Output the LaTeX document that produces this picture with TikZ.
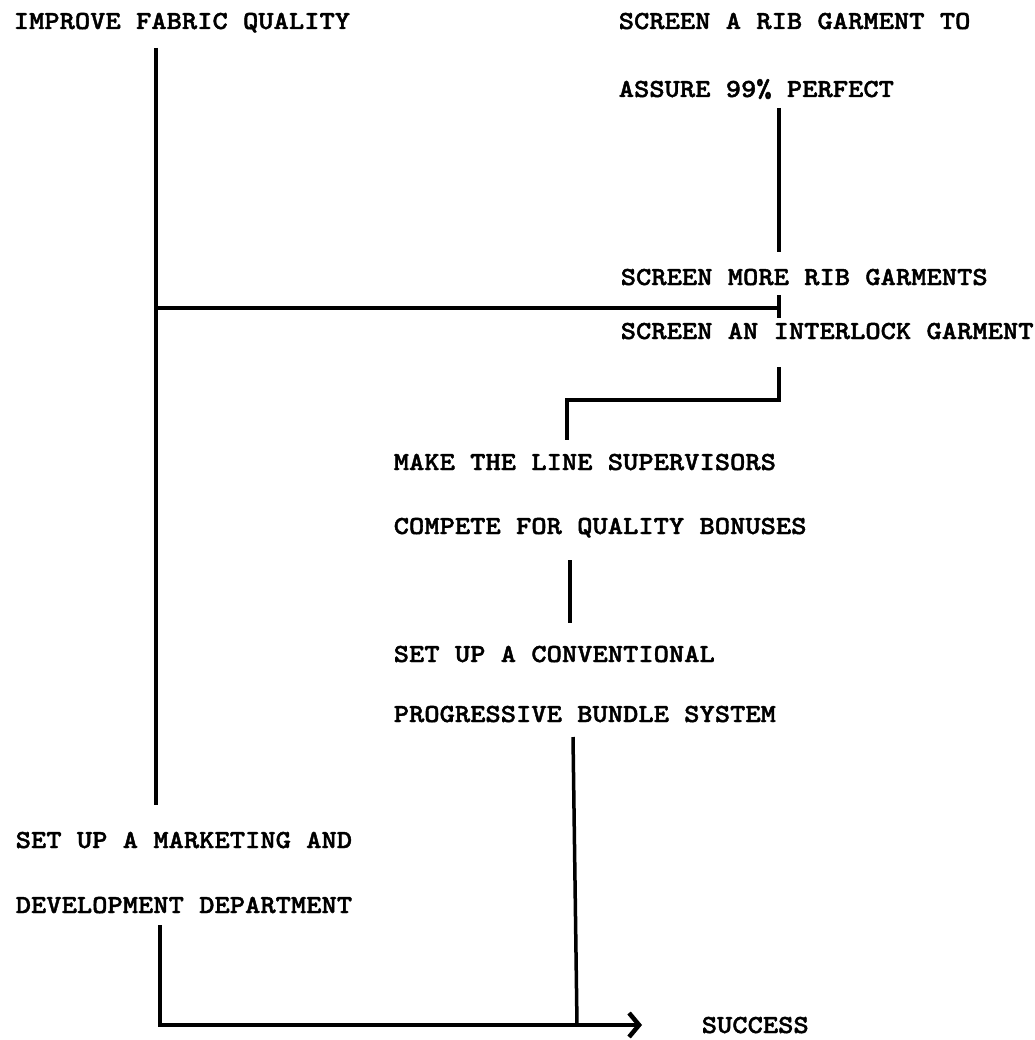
\documentclass[tikz,border=0pt]{standalone}
\usepackage{fontspec}
\newfontfamily\typewr{lmmonolt10-bold.otf}[FakeStretch=1.12,FakeBold=1.6]
\usetikzlibrary{arrows.meta}

\begin{document}
\begin{tikzpicture}[x=1pt,y=-1pt,line width=3.5pt,
  every node/.style={anchor=base west,inner sep=0pt,font=\fontsize{26}{30}\typewr}]
\useasboundingbox (0,0) rectangle (1034,1040);
% texts
\path (12,29) node (improve) {IMPROVE FABRIC QUALITY};
\path (617,29) node (screenrib) {SCREEN A RIB GARMENT TO};
\path (617,97) node (assure) {ASSURE 99\% PERFECT};
\path (619,285) node (screenmore) {SCREEN MORE RIB GARMENTS};
\path (619,339) node (interlock) {SCREEN AN INTERLOCK GARMENT};
\path (392,470) node (makeline) {MAKE THE LINE SUPERVISORS};
\path (392,534) node (compete) {COMPETE FOR QUALITY BONUSES};
\path (392,662) node (setconv) {SET UP A CONVENTIONAL};
\path (392,722) node (bundle) {PROGRESSIVE BUNDLE SYSTEM};
\path (14,848) node (marketing) {SET UP A MARKETING AND};
\path (14,913) node (develop) {DEVELOPMENT DEPARTMENT};
\path (700,1033) node (success) {SUCCESS};
% turning points
\path (156,48) coordinate (mainTop);
\path (156,308) coordinate (mainJoin);
\path (156,805) coordinate (mainEnd);
\path (779,108) coordinate (ribTop);
\path (779,252) coordinate (ribEnd);
\path (779,295) coordinate (tickTop);
\path (779,308) coordinate (tickJoin);
\path (779,318) coordinate (tickEnd);
\path (779,367) coordinate (ilTop);
\path (779,400) coordinate (ilCorner);
\path (567,400) coordinate (mlCorner);
\path (567,440) coordinate (mlEnd);
\path (570,560) coordinate (cmpTop);
\path (570,623) coordinate (cmpEnd);
\path (573,737) coordinate (bdlTop);
\path (577,1025) coordinate (bdlJoin);
\path (160,925) coordinate (devTop);
\path (160,1025) coordinate (devCorner);
\path (642,1025) coordinate (arrowTip);

\draw (mainTop) to (mainEnd);
\draw (mainJoin) to (tickJoin);
\draw (ribTop) to (ribEnd);
\draw (tickTop) to (tickEnd);
\draw (ilTop) -- (ilCorner) -- (mlCorner) -- (mlEnd);
\draw (cmpTop) to (cmpEnd);
\draw (bdlTop) to (bdlJoin);
\draw [-{Straight Barb[length=10pt,width=24pt,line width=4.5pt]}] (devTop) -- (devCorner) -- (arrowTip);
\end{tikzpicture}
\end{document}
